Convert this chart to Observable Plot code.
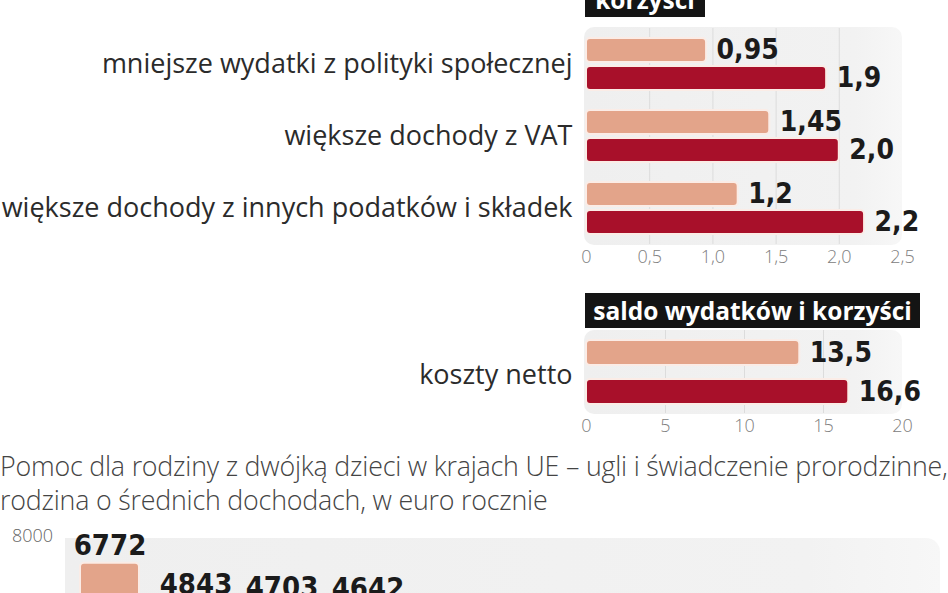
<!DOCTYPE html>
<html>
<head>
<meta charset="utf-8">
<script src="https://cdn.jsdelivr.net/npm/d3@7"></script>
<script src="https://cdn.jsdelivr.net/npm/@observablehq/plot@0.6"></script>
<style>
  html, body { margin: 0; padding: 0; background: #fff; }
  #root { position: relative; width: 948px; height: 593px; overflow: hidden; background: #fff; font-family: "Open Sans", sans-serif; }
  .abs { position: absolute; }
  .panel { position: absolute; background: linear-gradient(90deg, #efefef 0%, #f2f2f2 85%, #f7f7f7 100%); border-radius: 10px; }
  .tag { position: absolute; background: #141414; color: #fff; font-family: "Open Sans", sans-serif; font-weight: 700; font-size: 24.5px; text-align: center; line-height: 35px; height: 35px; }
  .title { position: absolute; left: 0; top: 449px; font-family: "Open Sans", sans-serif; font-size: 26.8px; font-weight: 300; color: #444; line-height: 34px; white-space: nowrap; letter-spacing: -0.2px; }
</style>
</head>
<body>
<div id="root">
  <div class="panel" style="left:584px; top:27px; width:318px; height:218px;"></div>
  <div class="panel" style="left:584px; top:330px; width:318px; height:84px;"></div>
  <div class="panel" style="left:65px; top:538px; width:875px; height:120px; border-radius: 0 14px 0 0;"></div>
  <div class="tag" style="left:585px; top:-18px; width:120px;">korzyści</div>
  <div class="tag" style="left:585px; top:293px; width:335px;">saldo wydatków i korzyści</div>
  <div class="title">Pomoc dla rodziny z dwójką dzieci w krajach UE – ugli i świadczenie prorodzinne,<br>rodzina o średnich dochodach, w euro rocznie</div>
  <div id="c1" class="abs" style="left:0; top:0;"></div>
  <div id="c2" class="abs" style="left:0; top:330px;"></div>
  <div id="c3" class="abs" style="left:0; top:500px;"></div>
</div>
<script>
// ---- data ----
const categories = ["mniejsze wydatki z polityki społecznej", "większe dochody z VAT", "większe dochody z innych podatków i składek"];
const seriesKeys = ["s1", "s2"];
const valuesS1 = [0.95, 1.45, 1.2];
const valuesS2 = [1.9, 2.0, 2.2];
const xTicks1 = [0, 0.5, 1, 1.5, 2, 2.5];
const grid1 = [0.5, 1, 1.5, 2];

const netCategories = ["koszty netto"];
const netS1 = [13.5];
const netS2 = [16.6];
const xTicks2 = [0, 5, 10, 15, 20];
const grid2 = [5, 10, 15];

const colKeys = ["1", "2", "3", "4"];
const colValues = [6772, 4843, 4703, 4642];
const yTicks3 = [8000];

// ---- helpers ----
const paleColor = "#e3a48a";
const darkColor = "#a8102a";
const numFont = "'DejaVu Sans Condensed', 'DejaVu Sans', sans-serif";
const labelFont = "'Open Sans', sans-serif";
const fmtVal = v => (Number.isInteger(v) ? v.toFixed(1) : String(v)).replace(".", ",");
const fmtTick1 = d => d === 0 ? "0" : d.toFixed(1).replace(".", ",");

const rows1 = categories.flatMap((c, i) => [
  {cat: c, s: seriesKeys[0], v: valuesS1[i]},
  {cat: c, s: seriesKeys[1], v: valuesS2[i]}
]);
const rows2 = netCategories.flatMap((c, i) => [
  {cat: c, s: seriesKeys[0], v: netS1[i]},
  {cat: c, s: seriesKeys[1], v: netS2[i]}
]);
const rows3 = colKeys.map((k, i) => ({k, v: colValues[i]}));

const baseStyle = {background: "transparent", fontFamily: labelFont, fontSize: "18px", fontWeight: 300, color: "#808080", overflow: "visible"};

// ---- chart 1 ----
const c1 = Plot.plot({
  width: 948, height: 275,
  marginLeft: 586, marginRight: 46, marginTop: 27, marginBottom: 31,
  x: {domain: [0, 2.5], ticks: xTicks1, tickFormat: fmtTick1, tickSize: 0, tickPadding: 6, label: null},
  y: {domain: seriesKeys, paddingInner: 0.16, paddingOuter: 0.35, axis: null},
  fy: {domain: categories, padding: 0, axis: null, label: null},
  color: {domain: seriesKeys, range: [paleColor, darkColor]},
  style: baseStyle,
  marks: [
    Plot.ruleX(grid1, {stroke: "#dcdcdc", strokeWidth: 1}),
    Plot.barX(rows1, {x: "v", y: "s", fy: "cat", fill: "s", stroke: "#fbece6", strokeWidth: 2, rx: 4}),
    Plot.text(rows1, {x: "v", y: "s", fy: "cat", text: d => fmtVal(d.v), dx: 10, textAnchor: "start", fontSize: 28, fontWeight: "bold", fontFamily: numFont, fill: "#1b1b1b"}),
    Plot.text(categories, {fy: d => d, text: d => d, frameAnchor: "left", dx: -14, textAnchor: "end", fontSize: 27, fontWeight: 400, fontFamily: labelFont, fill: "#2b2b2b"})
  ]
});
document.getElementById("c1").appendChild(c1);

// ---- chart 2 ----
const c2 = Plot.plot({
  width: 948, height: 115,
  marginLeft: 586, marginRight: 46, marginTop: 0, marginBottom: 32,
  x: {domain: [0, 20], ticks: xTicks2, tickSize: 0, tickPadding: 6, label: null},
  y: {domain: seriesKeys, paddingInner: 0.36, paddingOuter: 0.24, axis: null},
  color: {domain: seriesKeys, range: [paleColor, darkColor]},
  style: baseStyle,
  marks: [
    Plot.ruleX(grid2, {stroke: "#dcdcdc", strokeWidth: 1}),
    Plot.barX(rows2, {x: "v", y: "s", fill: "s", stroke: "#fbece6", strokeWidth: 2, rx: 4}),
    Plot.text(rows2, {x: "v", y: "s", text: d => fmtVal(d.v), dx: 10, textAnchor: "start", fontSize: 28, fontWeight: "bold", fontFamily: numFont, fill: "#1b1b1b"}),
    Plot.text(netCategories, {text: d => d, frameAnchor: "left", dx: -14, dy: 3, textAnchor: "end", fontSize: 27, fontWeight: 400, fontFamily: labelFont, fill: "#2b2b2b"})
  ]
});
document.getElementById("c2").appendChild(c2);

// ---- chart 3 ----
const c3 = Plot.plot({
  width: 948, height: 220,
  marginLeft: 65, marginRight: 536, marginTop: 38, marginBottom: 20,
  x: {domain: colKeys, paddingInner: 0.31, paddingOuter: 0.15, axis: null},
  y: {domain: [0, 8000], axis: null},
  style: baseStyle,
  marks: [
    Plot.barY(rows3, {x: "k", y: "v", fill: paleColor, stroke: "#fbece6", strokeWidth: 2, rx: 4}),
    Plot.text(rows3, {x: "k", y: "v", text: d => String(d.v), dy: -8, lineAnchor: "bottom", fontSize: 29, fontWeight: "bold", fontFamily: numFont, fill: "#1b1b1b"}),
    Plot.text(yTicks3, {y: d => d, frameAnchor: "left", dx: -33, dy: -2, textAnchor: "middle", text: d => String(d), fontSize: 18, fontWeight: 300, fontFamily: labelFont, fill: "#666"})
  ]
});
document.getElementById("c3").appendChild(c3);
</script>
</body>
</html>
